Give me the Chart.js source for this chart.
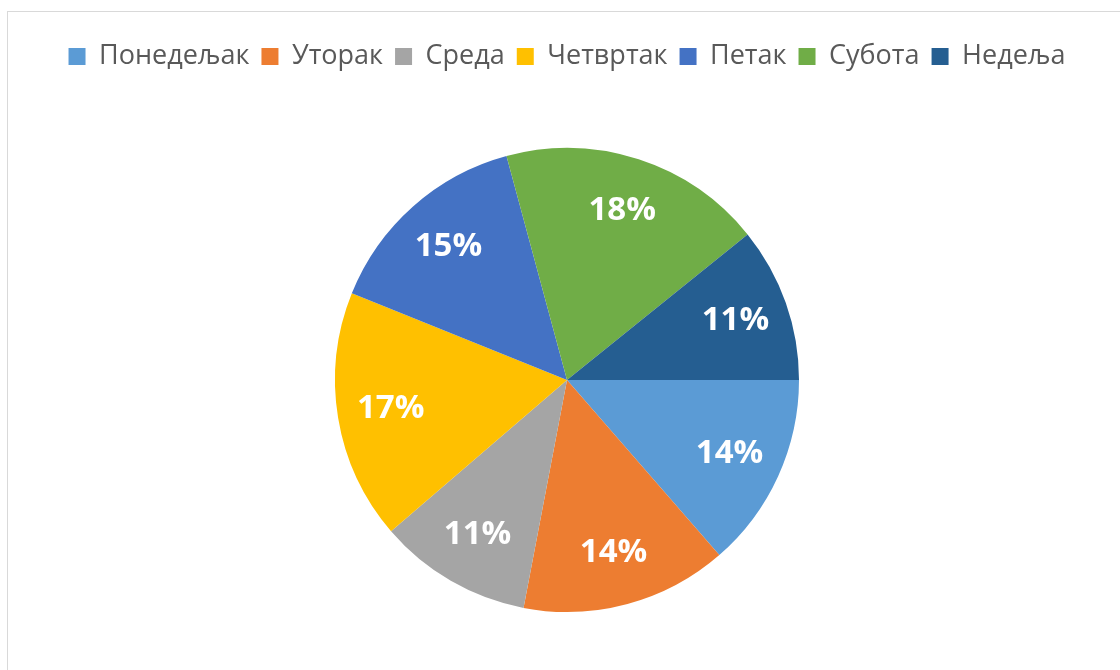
<!DOCTYPE html>
<html>
<head>
<meta charset="utf-8">
<script src="https://cdn.jsdelivr.net/npm/chart.js@4"></script>
<style>
  html, body { margin: 0; padding: 0; background: #fff; overflow: hidden; }
  #frame { position: absolute; left: 7px; top: 11px; width: 1300px; height: 900px; border: 1px solid #d9d9d9; }
  #wrap { position: absolute; left: 0; top: 0; width: 1120px; height: 670px; }
</style>
</head>
<body>
<div id="frame"></div>
<div id="wrap"><canvas id="myChart" width="1120" height="670"></canvas></div>
<script>
// days of the week and their share
const days = ["Понедељак", "Уторак", "Среда", "Четвртак", "Петак", "Субота", "Недеља"]
const shares = [13.6, 14.4, 10.7, 17.4, 14.7, 18.4, 10.8]
const colors = ["#5B9BD5", "#ED7D31", "#A5A5A5", "#FFC000", "#4472C4", "#70AD47", "#255E91"]

// draws the % inside each slice, like excel data labels
const sliceLabels = {
  id: "sliceLabels",
  afterDatasetsDraw(chart) {
    const ctx = chart.ctx
    const meta = chart.getDatasetMeta(0)
    const total = shares.reduce((a, b) => a + b, 0)
    ctx.save()
    ctx.font = "bold 33px 'Open Sans'"
    ctx.fillStyle = "#fff"
    ctx.textAlign = "center"
    ctx.textBaseline = "middle"
    meta.data.forEach((arc, i) => {
      const mid = (arc.startAngle + arc.endAngle) / 2
      const r = arc.outerRadius * 0.77
      const x = arc.x + Math.cos(mid) * r
      const y = arc.y + Math.sin(mid) * r
      ctx.fillText(Math.round(shares[i] / total * 100) + "%", x, y)
    })
    ctx.restore()
  }
}

// extra room under the legend so the pie sits lower
const legendGap = {
  id: "legendGap",
  beforeInit(chart) {
    const fit = chart.legend.fit
    chart.legend.fit = function() {
      fit.bind(chart.legend)()
      this.height += 68
    }
  }
}

const ctx = document.getElementById("myChart")
const chart = new Chart(ctx, {
  type: "pie",
  data: {
    labels: days,
    datasets: [{
      data: shares,
      backgroundColor: colors,
      borderWidth: 0
    }]
  },
  options: {
    responsive: false,
    animation: false,
    rotation: 90,
    layout: { padding: { top: 31, bottom: 58, left: 14, right: 0 } },
    plugins: {
      tooltip: { enabled: false },
      legend: {
        position: "top",
        labels: {
          font: { family: "'Open Sans'", size: 27 },
          color: "#595959",
          boxWidth: 17,
          boxHeight: 17,
          padding: 12
        }
      }
    }
  },
  plugins: [sliceLabels, legendGap]
})
</script>
</body>
</html>
